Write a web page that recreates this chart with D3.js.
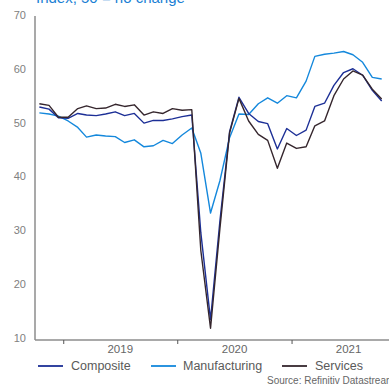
<!DOCTYPE html>
<html>
<head>
<meta charset="utf-8">
<script src="https://cdn.jsdelivr.net/npm/d3@7"></script>
<style>
  body { margin: 0; background: #fff; }
  svg { display: block; font-family: "Liberation Sans", Arial, sans-serif; }
</style>
</head>
<body>
<div id="viz"></div>
<script>
// monthly, Oct 2018 - Oct 2021
let months = d3.timeMonths(new Date(2018, 9, 1), new Date(2021, 10, 1));

let composite = [53.1, 52.7, 51.1, 51.0, 51.9, 51.6, 51.5, 51.8, 52.2, 51.5, 51.9, 50.1,
    50.6, 50.6, 50.9, 51.3, 51.6, 29.7, 13.6, 31.9, 48.5, 54.9, 51.9, 50.4,
    50.0, 45.3, 49.1, 47.8, 48.8, 53.2, 53.8, 57.1, 59.5, 60.2, 59.0, 56.2, 54.2];
let manufacturing = [52.0, 51.8, 51.4, 50.5, 49.3, 47.5, 47.9, 47.7, 47.6, 46.5, 47.0, 45.7,
    45.9, 46.9, 46.3, 47.9, 49.2, 44.5, 33.4, 39.4, 47.4, 51.8, 51.7, 53.7,
    54.8, 53.8, 55.2, 54.8, 57.9, 62.5, 62.9, 63.1, 63.4, 62.8, 61.4, 58.6, 58.3];
let services = [53.7, 53.4, 51.2, 51.2, 52.8, 53.3, 52.8, 52.9, 53.6, 53.2, 53.5, 51.6,
    52.2, 51.9, 52.8, 52.5, 52.6, 26.4, 12.0, 30.5, 48.3, 54.7, 50.5, 48.0,
    46.9, 41.7, 46.4, 45.4, 45.7, 49.6, 50.5, 55.2, 58.3, 59.8, 59.0, 56.4, 54.6];

let yTicks = [10, 20, 30, 40, 50, 60, 70];
let years = [2019, 2020, 2021];
let seriesNames = ["Composite", "Manufacturing", "Services"];
let colors = {Composite: "#1c2f96", Manufacturing: "#1488dc", Services: "#35262d"};

let width = 389, height = 385;

let svg = d3.select("#viz").append("svg")
    .attr("width", width)
    .attr("height", height);

let x = d3.scaleTime()
    .domain([new Date(2018, 9, 1), new Date(2021, 10, 1)])
    .range([35, 387]);
let y = d3.scaleLinear().domain([10, 70]).range([339, 16]);

// mid-month positions
let mid = d => new Date(d.getFullYear(), d.getMonth(), 15);

// title (cut off at top, as in the original)
svg.append("text")
    .attr("x", 36).attr("y", 3)
    .style("font-size", "15px")
    .style("fill", "#1a7fd4")
    .text("Index, 50 = no change");

// y tick labels
svg.selectAll(".ylab")
    .data(yTicks)
    .enter()
    .append("text")
    .attr("x", 26)
    .attr("y", d => y(d) - 1)
    .attr("dy", "0.35em")
    .style("text-anchor", "end")
    .style("font-size", "11px")
    .style("fill", "#808080")
    .text(d => d);

// axes lines
svg.append("line")
    .attr("x1", 35).attr("x2", 35)
    .attr("y1", y(70)).attr("y2", y(10) + 1)
    .attr("stroke", "#8c8c8c").attr("stroke-width", 1.5);
svg.append("line")
    .attr("x1", 35).attr("x2", width)
    .attr("y1", y(10) + 1).attr("y2", y(10) + 1)
    .attr("stroke", "#8c8c8c").attr("stroke-width", 1.5);

// year ticks and labels
svg.selectAll(".xtick")
    .data(years)
    .enter()
    .append("line")
    .attr("x1", d => x(new Date(d, 0, 1)))
    .attr("x2", d => x(new Date(d, 0, 1)))
    .attr("y1", y(10) + 1).attr("y2", y(10) + 5)
    .attr("stroke", "#555").attr("stroke-width", 1);

svg.selectAll(".xlab")
    .data(years)
    .enter()
    .append("text")
    .attr("x", d => x(new Date(d, 6, 1)))
    .attr("y", 353)
    .style("text-anchor", "middle")
    .style("font-size", "11.5px")
    .style("fill", "#666")
    .text(d => d);

// lines
let line = d3.line()
    .x((d, i) => x(mid(months[i])))
    .y(d => y(d));

let dataBy = {Composite: composite, Manufacturing: manufacturing, Services: services};
for (let name of ["Manufacturing", "Composite", "Services"]) {
    svg.append("path")
        .datum(dataBy[name])
        .attr("d", line)
        .attr("fill", "none")
        .attr("stroke", colors[name])
        .attr("stroke-width", 1.4)
        .attr("stroke-linejoin", "round");
}

// legend
let legendX = [38, 151, 282];
let lg = svg.selectAll(".legend")
    .data(seriesNames)
    .enter()
    .append("g")
    .attr("transform", (d, i) => "translate(" + legendX[i] + ",366)");
lg.append("line")
    .attr("x1", 0).attr("x2", 25)
    .attr("y1", 0).attr("y2", 0)
    .attr("stroke", d => colors[d])
    .attr("stroke-width", 1.8);
lg.append("text")
    .attr("x", (d, i) => i === 1 ? 32 : 33)
    .attr("dy", "0.35em")
    .style("font-size", "12.5px")
    .style("fill", "#5a5a5a")
    .text(d => d);

// source (runs past the right edge, as in the original)
svg.append("text")
    .attr("x", 267).attr("y", 384)
    .style("font-size", "10px")
    .style("fill", "#666")
    .text("Source: Refinitiv Datastream");
</script>
</body>
</html>
